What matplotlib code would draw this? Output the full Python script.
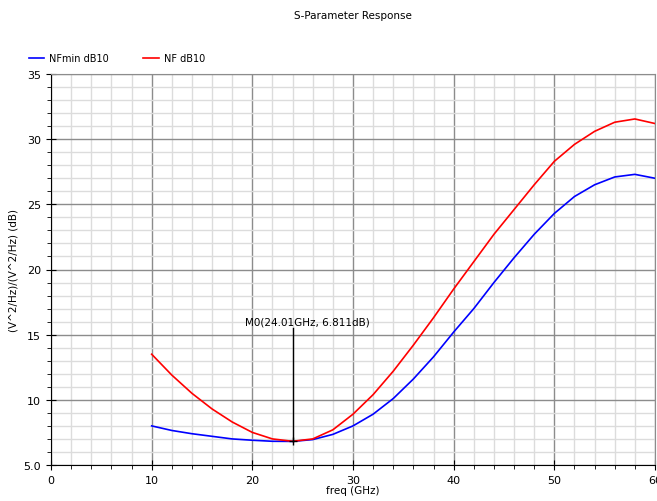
"""S-Parameter Response: NFmin and NF in dB10 vs frequency."""

import matplotlib.pyplot as plt
from matplotlib.ticker import MultipleLocator

freq_ghz = [10, 12, 14, 16, 18, 20, 22, 24, 26, 28, 30, 32, 34,
            36, 38, 40, 42, 44, 46, 48, 50, 52, 54, 56, 58, 60]
nfmin_db = [8.0, 7.65, 7.4, 7.2, 7.0, 6.9, 6.82, 6.81, 6.95, 7.35, 8.0, 8.9, 10.1,
            11.6, 13.3, 15.2, 17.0, 19.0, 20.9, 22.7, 24.3, 25.6, 26.5, 27.1, 27.3, 27.0]
nf_db = [13.5, 11.9, 10.5, 9.3, 8.3, 7.5, 7.0, 6.82, 7.0, 7.7, 8.9, 10.4, 12.2,
         14.2, 16.3, 18.5, 20.6, 22.7, 24.6, 26.5, 28.3, 29.6, 30.6, 31.3, 31.55, 31.2]

marker_x = 24.01
marker_y = 6.811
marker_top = 15.5

fig = plt.figure(figsize=(6.57, 5.02), dpi=100)
ax = fig.add_axes([51 / 657, 36 / 502, 604 / 657, 391 / 502])

ax.plot(freq_ghz, nfmin_db, color="#0000ff", lw=1.2, label="NFmin dB10")
ax.plot(freq_ghz, nf_db, color="#ff0000", lw=1.2, label="NF dB10")

# marker M0
ax.plot([marker_x, marker_x], [marker_y, marker_top], color="black", lw=1)
ax.plot(marker_x, marker_y, marker="+", color="black", ms=6, mew=1)
ax.text(19.3, marker_top + 0.1, f"M0({marker_x:.2f}GHz, {marker_y:.3f}dB)",
        fontsize=7.5, ha="left", va="bottom")

ax.set_xlim(0, 60)
ax.set_ylim(5, 35)
ax.xaxis.set_major_locator(MultipleLocator(10))
ax.xaxis.set_minor_locator(MultipleLocator(2))
ax.yaxis.set_major_locator(MultipleLocator(5))
ax.yaxis.set_minor_locator(MultipleLocator(1))
ax.set_yticks([5, 10, 15, 20, 25, 30, 35])
ax.set_yticklabels(["5.0", "10", "15", "20", "25", "30", "35"])

ax.grid(which="major", color="#8c8c8c", lw=1)
ax.grid(which="minor", color="#dcdcdc", lw=1)
ax.set_axisbelow(True)
ax.tick_params(which="major", direction="inout", length=7, labelsize=8)
ax.tick_params(which="minor", direction="out", length=3)
for s in ("top", "right"):
    ax.spines[s].set_color("#8c8c8c")

ax.set_xlabel("freq (GHz)", fontsize=7.5, labelpad=0)
ax.set_ylabel("(V^2/Hz)/(V^2/Hz) (dB)", fontsize=7.5, labelpad=4)

fig.text(353 / 657, 1 - 16 / 502, "S-Parameter Response", fontsize=7.5,
         ha="center", va="center")
fig.legend(loc="center left", bbox_to_anchor=(25 / 657, 1 - 59 / 502), ncol=2,
           frameon=False, fontsize=7, handlelength=1.6, handletextpad=0.5,
           columnspacing=3.5, borderaxespad=0)

fig.savefig("out.png", dpi=100)
